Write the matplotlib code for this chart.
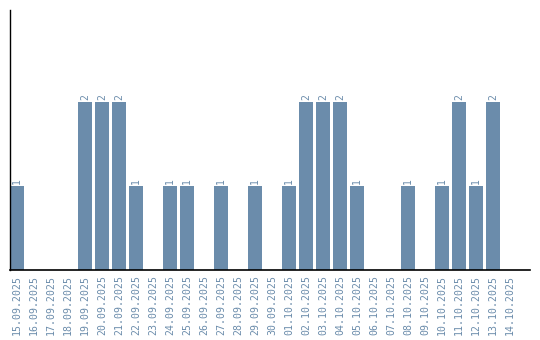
import matplotlib
matplotlib.use("Agg")
import matplotlib.pyplot as plt

dates = ["15.09.2025", "16.09.2025", "17.09.2025", "18.09.2025", "19.09.2025",
         "20.09.2025", "21.09.2025", "22.09.2025", "23.09.2025", "24.09.2025",
         "25.09.2025", "26.09.2025", "27.09.2025", "28.09.2025", "29.09.2025",
         "30.09.2025", "01.10.2025", "02.10.2025", "03.10.2025", "04.10.2025",
         "05.10.2025", "06.10.2025", "07.10.2025", "08.10.2025", "09.10.2025",
         "10.10.2025", "11.10.2025", "12.10.2025", "13.10.2025", "14.10.2025"]
counts = [1, 0, 0, 0, 2, 2, 2, 1, 0, 1,
          1, 0, 1, 0, 1, 0, 1, 2, 2, 2,
          1, 0, 0, 1, 0, 1, 2, 1, 2, 0]

bar_color = "#6b8cab"
text_color = "#6b8cab"

fig = plt.figure(figsize=(5.4, 3.4), dpi=100)
ax = fig.add_axes([10/540, 70/340, 520/540, 260/340])

x = list(range(len(dates)))
ax.bar(x, counts, width=0.82, color=bar_color)
for xi, v in zip(x, counts):
    if v > 0:
        ax.text(xi, v + 0.03, str(v), rotation=90, ha="center", va="bottom",
                fontsize=7, color=text_color, family="DejaVu Sans Mono")

ax.set_xlim(-0.41, 30.18)
ax.set_ylim(0, 3.1)
ax.set_xticks(x)
ax.set_xticklabels(dates, rotation=90, fontsize=7.1, color=text_color,
                   family="DejaVu Sans Mono")
ax.tick_params(axis="x", length=0, pad=3.5)
ax.set_yticks([])
for s in ["top", "right"]:
    ax.spines[s].set_visible(False)
ax.spines["left"].set_linewidth(1)
ax.spines["bottom"].set_linewidth(1.2)

fig.savefig("out.png", dpi=100)
